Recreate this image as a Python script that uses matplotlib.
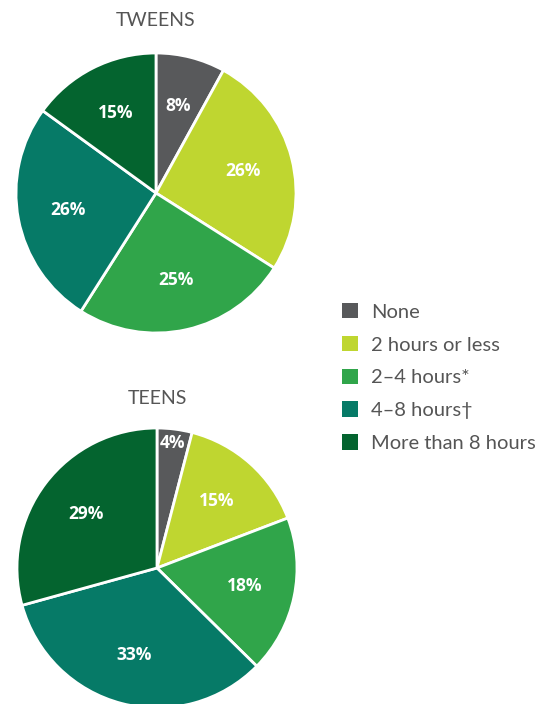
import matplotlib
matplotlib.use("Agg")
import matplotlib.pyplot as plt
from matplotlib.patches import Patch
import numpy as np

categories = ["None", "2 hours or less", "2\u20134 hours*", "4\u20138 hours\u2020", "More than 8 hours"]
colors = ["#58595b", "#bfd630", "#30a54a", "#067a67", "#04642f"]
tweens = [8, 26, 25, 26, 15]
teens = [4, 15, 18, 33, 29]

W, H = 553, 704
fig = plt.figure(figsize=(W / 100, H / 100), dpi=100)
fig.patch.set_facecolor("white")

R = 140

def make_pie(cx, cy, values, title, title_y):
    ax = fig.add_axes([(cx - R) / W, (H - cy - R) / H, 2 * R / W, 2 * R / H])
    wedges, texts, autotexts = ax.pie(
        values, colors=colors, startangle=90, counterclock=False,
        autopct=lambda p: f"{p:.0f}%", pctdistance=0.64, radius=1,
        wedgeprops=dict(edgecolor="white", linewidth=2),
        textprops=dict(color="white", fontsize=12.5, fontweight="bold", family="Open Sans"))
    for v, w, t in zip(values, wedges, autotexts):
        t.set_text(f"{v}%")
        if v < 6:
            ang = np.deg2rad((w.theta1 + w.theta2) / 2)
            t.set_position((0.9 * np.cos(ang), 0.9 * np.sin(ang)))
    ax.set_xlim(-1, 1)
    ax.set_ylim(-1, 1)
    ax.set_aspect("equal")
    ax.axis("off")
    fig.text(cx / W, 1 - title_y / H, title, ha="center", va="center",
             fontsize=14, color="#555555", family="Lato", fontweight="normal")
    return wedges

w1 = make_pie(156, 193, tweens, "TWEENS", 20)
w2 = make_pie(157, 568, teens, "TEENS", 398)

handles = [Patch(facecolor=c, edgecolor="none") for c in colors]
leg = fig.legend(handles, categories, loc="upper left",
                 bbox_to_anchor=(342 / W, 1 - 303 / H), frameon=False,
                 borderpad=0, borderaxespad=0,
                 handlelength=0.8, handleheight=0.8, handletextpad=0.65,
                 labelspacing=0.75, prop=dict(family="Lato", size=14.5))
for t in leg.get_texts():
    t.set_color("#555555")

fig.savefig("out.png", dpi=100)
